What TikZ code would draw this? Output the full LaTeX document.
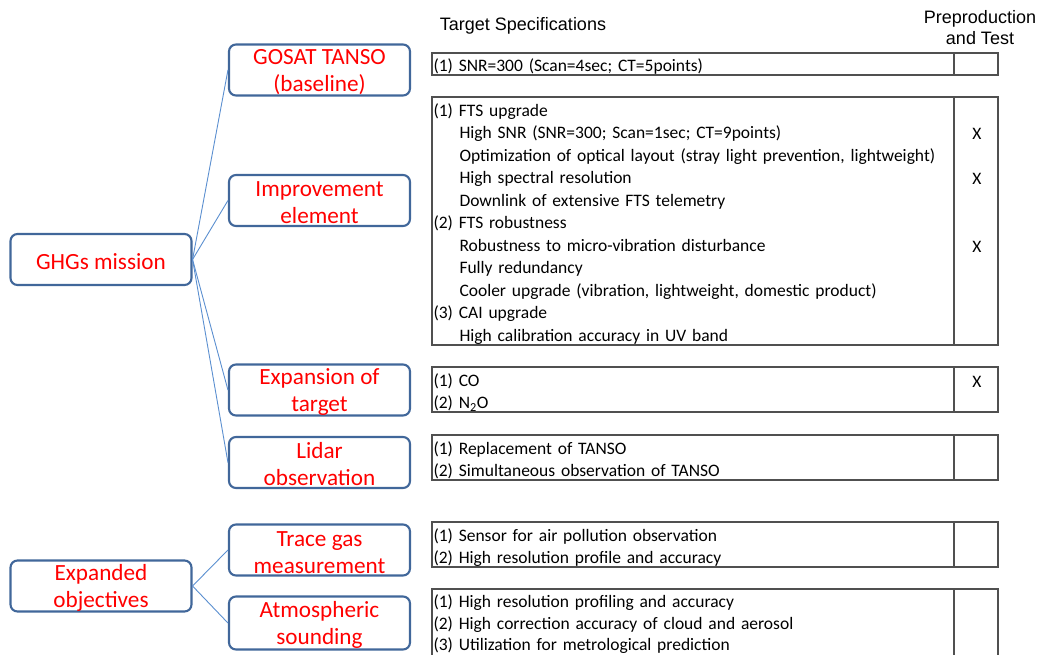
\documentclass[tikz,border=0pt]{standalone}
\usepackage{fontspec}
\setmainfont{Carlito}
\newfontfamily\headfont{Liberation Sans}
\usetikzlibrary{positioning}

\definecolor{boxblue}{HTML}{41679A}
\definecolor{linkblue}{HTML}{5B8FD0}
\definecolor{tablegray}{HTML}{505050}

\newcommand{\specindent}{\hspace*{26pt}}

\tikzset{
  topic/.style={draw=boxblue, line width=2.1pt, rounded corners=7pt,
    minimum width=181pt, minimum height=51pt, inner sep=0pt, text width=179pt,
    text=red, align=flush center, font=\fontsize{23.2}{27}\selectfont,
    execute at begin node={\rule{0pt}{20pt}}},
  link/.style={draw=linkblue, line width=0.9pt},
  spec/.style={draw=tablegray, line width=1.3pt, anchor=north west,
    outer sep=0pt, inner xsep=1.5pt, inner ysep=0pt, text width=519pt,
    align=left, minimum height=#1, font=\fontsize{17.5}{22.5}\selectfont,
    execute at begin node={\rule{0pt}{18.5pt}}},
  testcell/.style={draw=tablegray, line width=1.3pt, outer sep=0pt,
    minimum width=44pt, minimum height=#1},
  xmark/.style={font=\fontsize{17.5}{22.5}\selectfont},
  headtext/.style={font=\headfont\fontsize{18}{21}\selectfont, align=center}
}

\begin{document}
\begin{tikzpicture}[x=1pt,y=-1pt]
\useasboundingbox (0,0) rectangle (1039,654);

% column headers
\node[headtext] (spechead) at (523,26) {Target Specifications};
\node[headtext] (testhead) at (980,28) {Preproduction\\and Test};

% mission tree
\node[topic, execute at begin node={\rule{0pt}{17pt}}] (ghg) at (101,259.5) {GHGs mission};
\node[topic] (expanded) at (101,586) {Expanded\\objectives};

\node[topic] (base) at (319.5,70) {GOSAT TANSO\\(baseline)};
\node[topic] (improve) at (319.5,200.5) {Improvement\\element};
\node[topic] (target) at (319.5,390) {Expansion of\\target};
\node[topic] (lidar) at (319.5,462.5) {Lidar\\observation};
\node[topic] (trace) at (319.5,550) {Trace gas\\measurement};
\node[topic, minimum height=53pt] (sounding) at (319.5,623) {Atmospheric\\sounding};

\draw[link] (ghg.east) -- (base.west);
\draw[link] (ghg.east) -- (improve.west);
\draw[link] (ghg.east) -- (target.west);
\draw[link] (ghg.east) -- (lidar.west);
\draw[link] (expanded.east) -- (trace.west);
\draw[link] (expanded.east) -- (sounding.west);

% specification tables
\node[spec=22pt] (basespec) at (432,53) {(1) SNR=300 (Scan=4sec; CT=5points)};
\node[testcell=22pt, right=0pt of basespec] (basetest) {};

\node[spec=248pt] (improvespec) at (432,97) {(1) FTS upgrade\\
  \specindent High SNR (SNR=300; Scan=1sec; CT=9points)\\
  \specindent Optimization of optical layout (stray light prevention, lightweight)\\
  \specindent High spectral resolution\\
  \specindent Downlink of extensive FTS telemetry\\
  (2) FTS robustness\\
  \specindent Robustness to micro-vibration disturbance\\
  \specindent Fully redundancy\\
  \specindent Cooler upgrade (vibration, lightweight, domestic product)\\
  (3) CAI upgrade\\
  \specindent High calibration accuracy in UV band};
\node[testcell=248pt, right=0pt of improvespec] (improvetest) {};

\node[spec=45pt] (targetspec) at (432,367) {(1) CO\\(2) N\textsubscript{2}O};
\node[testcell=45pt, right=0pt of targetspec] (targettest) {};

\node[spec=45pt] (lidarspec) at (432,435) {(1) Replacement of TANSO\\(2) Simultaneous observation of TANSO};
\node[testcell=45pt, right=0pt of lidarspec] (lidartest) {};

\node[spec=45pt] (tracespec) at (432,522) {(1) Sensor for air pollution observation\\(2) High resolution profile and accuracy};
\node[testcell=45pt, right=0pt of tracespec] (tracetest) {};

\node[spec=70pt, font=\fontsize{17.5}{21.3}\selectfont, execute at begin node={\rule{0pt}{14pt}}] (soundingspec) at (432,589) {(1) High resolution profiling and accuracy\\
  (2) High correction accuracy of cloud and aerosol\\
  (3) Utilization for metrological prediction\rule[-8pt]{0pt}{8pt}};
\node[testcell=70pt, right=0pt of soundingspec] (soundingtest) {};

% test marks
\node[xmark] (snrmark) at (977,134) {X};
\node[xmark] (resmark) at (977,179) {X};
\node[xmark] (vibmark) at (977,247) {X};
\node[xmark] (comark) at (977,382) {X};
\end{tikzpicture}
\end{document}
